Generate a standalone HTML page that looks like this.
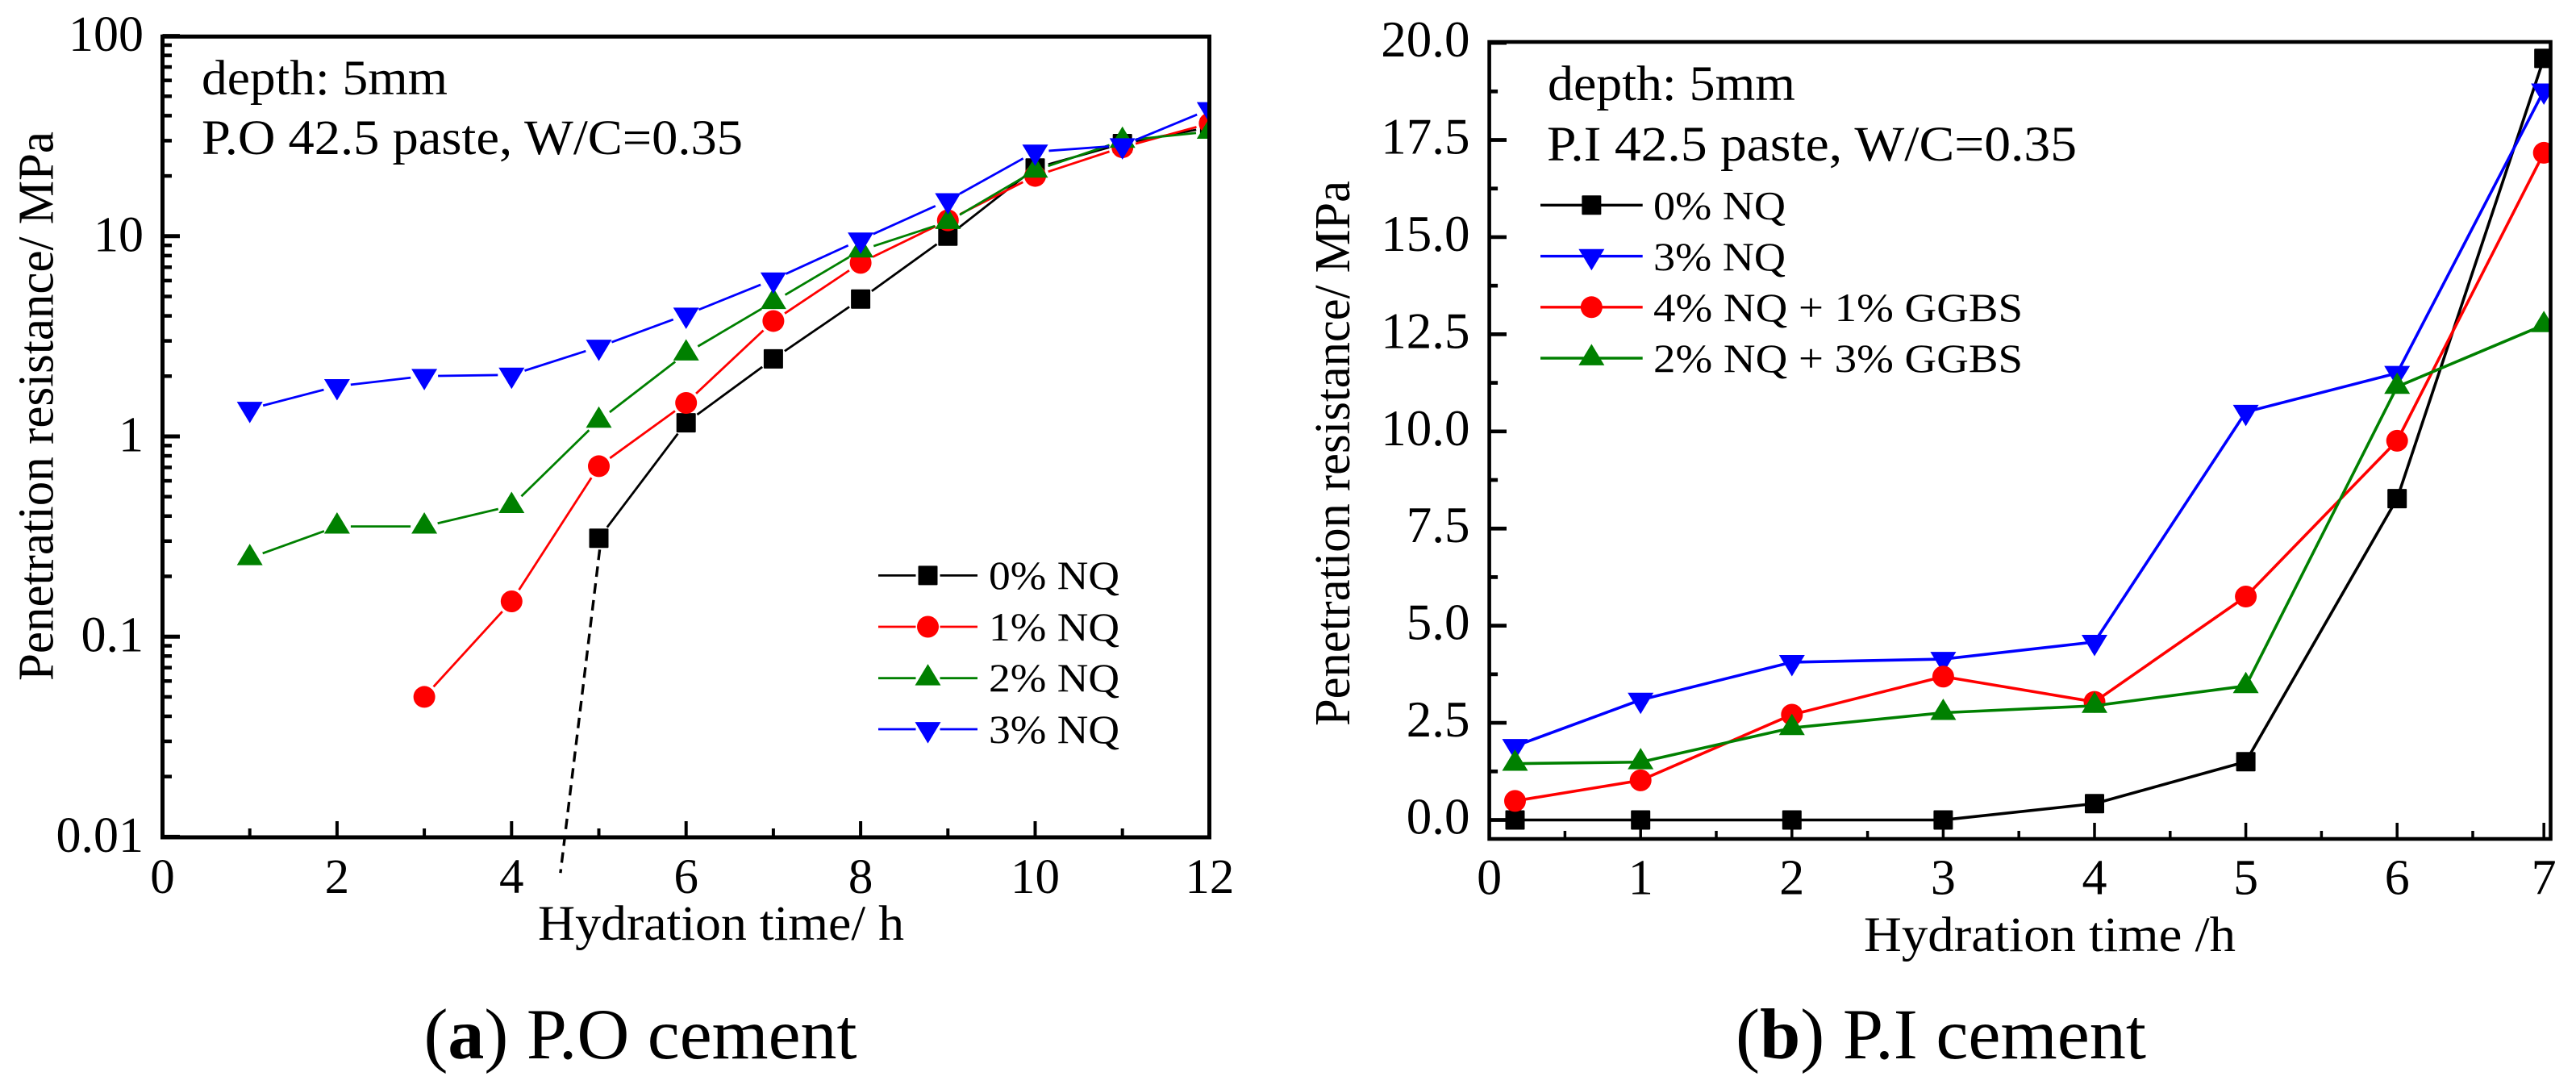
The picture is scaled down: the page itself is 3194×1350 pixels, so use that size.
<!DOCTYPE html>
<html lang="en">
<head>
<meta charset="utf-8">
<title>Penetration resistance charts</title>
<style>
html,body{margin:0;padding:0;background:#fff;}
svg{display:block;}
text{font-family:"Liberation Serif",serif;fill:#000;}
</style>
</head>
<body>
<svg id="figure" xmlns="http://www.w3.org/2000/svg" width="3194" height="1350" viewBox="0 0 3194 1350">
  <defs>
    <clipPath id="clip-a"><rect x="204" y="47" width="1296" height="990"/></clipPath>
    <clipPath id="clip-b"><rect x="1848" y="53" width="1316" height="986"/></clipPath>
  </defs>
  <rect x="0" y="0" width="3194" height="1350" fill="#fff"/>
  <g id="panel-a"></g>
  <g id="panel-b"></g>

  <text x="65.5" y="503.5" font-size="62" text-anchor="middle" textLength="681" lengthAdjust="spacingAndGlyphs" transform="rotate(-90 65.5 503.5)">Penetration resistance/ MPa</text>
  <text x="667" y="1165" font-size="61" textLength="454" lengthAdjust="spacingAndGlyphs">Hydration time/ h</text>
  <text x="250" y="117" font-size="61" textLength="305" lengthAdjust="spacingAndGlyphs">depth: 5mm</text>
  <text x="250" y="191" font-size="61" textLength="671" lengthAdjust="spacingAndGlyphs">P.O 42.5 paste, W/C=0.35</text>
  <text x="1226" y="730" font-size="50" textLength="162" lengthAdjust="spacingAndGlyphs">0% NQ</text>
  <text x="1226" y="794" font-size="50" textLength="162" lengthAdjust="spacingAndGlyphs">1% NQ</text>
  <text x="1226" y="857" font-size="50" textLength="162" lengthAdjust="spacingAndGlyphs">2% NQ</text>
  <text x="1226" y="921" font-size="50" textLength="162" lengthAdjust="spacingAndGlyphs">3% NQ</text>
  <text x="525.5" y="1312" font-size="89" textLength="537" lengthAdjust="spacingAndGlyphs">(<tspan font-weight="bold">a</tspan>) P.O cement</text>

  <text x="1673" y="562" font-size="62" text-anchor="middle" textLength="676" lengthAdjust="spacingAndGlyphs" transform="rotate(-90 1673 562)">Penetration resistance/ MPa</text>
  <text x="2311" y="1179" font-size="61" textLength="461" lengthAdjust="spacingAndGlyphs">Hydration time /h</text>
  <text x="1919" y="124" font-size="61" textLength="307" lengthAdjust="spacingAndGlyphs">depth: 5mm</text>
  <text x="1918" y="199" font-size="61" textLength="657" lengthAdjust="spacingAndGlyphs">P.I 42.5 paste, W/C=0.35</text>
  <text x="2050" y="271.5" font-size="50" textLength="164" lengthAdjust="spacingAndGlyphs">0% NQ</text>
  <text x="2050" y="335" font-size="50" textLength="164" lengthAdjust="spacingAndGlyphs">3% NQ</text>
  <text x="2050" y="398" font-size="50" textLength="458" lengthAdjust="spacingAndGlyphs">4% NQ + 1% GGBS</text>
  <text x="2050" y="461" font-size="50" textLength="458" lengthAdjust="spacingAndGlyphs">2% NQ + 3% GGBS</text>
  <text x="2152" y="1312" font-size="89" textLength="509" lengthAdjust="spacingAndGlyphs">(<tspan font-weight="bold">b</tspan>) P.I cement</text>
</svg>

<script>
// ---- Panel (a) data: P.O cement ----
const hoursA = [1, 2, 3, 4, 5, 6, 7, 8, 9, 10, 11, 12];
const nq0A = [null, null, null, null, 0.31, 1.17, 2.44, 4.85, 10, 21.9, 29, 35];
const nq1A = [null, null, 0.05, 0.15, 0.71, 1.47, 3.77, 7.36, 12, 20, 27.8, 36.6];
const nq2A = [0.247, 0.355, 0.355, 0.45, 1.2, 2.6, 4.7, 8.5, 11.8, 21.3, 30, 33.3];
const nq3A = [1.37, 1.78, 2.0, 2.03, 2.8, 4.05, 6.07, 9.6, 15.1, 26.4, 28.4, 43];
const xMajorTicksA = [0, 2, 4, 6, 8, 10, 12];
const xMinorTicksA = [1, 3, 5, 7, 9, 11];
const yDecadesA = [0.01, 0.1, 1, 10, 100];
const yMinorMultipliersA = [2, 3, 4, 5, 6, 7, 8, 9];
const dashHoursA = [5.01, 4.56];
const dashValuesA = [0.272, 0.0066];

// ---- Panel (b) data: P.I cement ----
const hoursB = [0.17, 1, 2, 3, 4, 5, 6, 6.97];
const nq0B = [0, 0, 0, 0, 0.42, 1.5, 8.27, 19.6];
const nq3B = [1.9, 3.09, 4.06, 4.14, 4.58, 10.5, 11.5, 18.77];
const nq4GgbsB = [0.49, 1.02, 2.71, 3.69, 3.04, 5.75, 9.76, 17.17];
const nq2GgbsB = [1.45, 1.49, 2.37, 2.76, 2.94, 3.45, 11.15, 12.74];
const xMajorTicksB = [0, 1, 2, 3, 4, 5, 6, 6.97];
const xTickLabelsB = ['0', '1', '2', '3', '4', '5', '6', '7'];
const xMinorTicksB = [0.5, 1.5, 2.5, 3.5, 4.5, 5.5, 6.5];
const yMajorTicksB = [0, 2.5, 5, 7.5, 10, 12.5, 15, 17.5, 20];
const yTickLabelsB = ['0.0', '2.5', '5.0', '7.5', '10.0', '12.5', '15.0', '17.5', '20.0'];
const yMinorTicksB = [1.25, 3.75, 6.25, 8.75, 11.25, 13.75, 16.25, 18.75];

// ---- Axis functions ----
const xA = h => 201.5 + 108.2 * h;
const yA = v => 541 - 248.2 * Math.log10(v);
const xB = h => 1846.6 + 187.6 * h;
const yB = v => 1016.5 - 48.17 * v;

const SVGNS = 'http://www.w3.org/2000/svg';
const BLACK = '#000000', RED = '#ff0000', GREEN = '#008000', BLUE = '#0000ff';

function make(tag, attrs, parent) {
  const e = document.createElementNS(SVGNS, tag);
  for (const k in attrs) e.setAttribute(k, attrs[k]);
  parent.appendChild(e);
  return e;
}

function drawMarker(parent, shape, color, x, y, name) {
  let m;
  if (shape === 'square') {
    m = make('rect', {x: x - 12, y: y - 12, width: 24, height: 24, rx: 1, fill: color}, parent);
  } else if (shape === 'circle') {
    m = make('circle', {cx: x, cy: y, r: 13.5, fill: color}, parent);
  } else if (shape === 'up') {
    m = make('polygon', {points: `${x},${y - 17.6} ${x - 16},${y + 8.9} ${x + 16},${y + 8.9}`, fill: color}, parent);
  } else {
    m = make('polygon', {points: `${x},${y + 17.6} ${x - 16},${y - 8.9} ${x + 16},${y - 8.9}`, fill: color}, parent);
  }
  
  
}

function drawSeries(parent, name, hours, values, xf, yf, color, shape, width, gap) {
  const pts = [];
  hours.forEach((h, i) => { if (values[i] !== null) pts.push([xf(h), yf(values[i])]); });
  let d = '';
  for (let i = 0; i + 1 < pts.length; i++) {
    const [x1, y1] = pts[i], [x2, y2] = pts[i + 1];
    const len = Math.hypot(x2 - x1, y2 - y1);
    if (len <= 2 * gap) continue;
    const ux = (x2 - x1) / len, uy = (y2 - y1) / len;
    d += `M${x1 + ux * gap} ${y1 + uy * gap}L${x2 - ux * gap} ${y2 - uy * gap}`;
  }
  const line = make('path', {d: d, fill: 'none', stroke: color, 'stroke-width': width}, parent);
  
  
  pts.forEach(p => {
    drawMarker(parent, shape, color, p[0], p[1], name + '-point');
  });
}

function drawLine(parent, name, x1, y1, x2, y2, width) {
  const l = make('line', {x1: x1, y1: y1, x2: x2, y2: y2, stroke: '#000', 'stroke-width': width}, parent);
  
  
  return l;
}

function drawLabel(parent, name, x, y, txt, size, anchor) {
  const t = make('text', {x: x, y: y, 'font-size': size, 'text-anchor': anchor}, parent);
  t.textContent = txt;
  
  
}

function drawLegendSwatch(parent, name, x1, x2, y, color, shape, width, gap) {
  const cx = (x1 + x2) / 2;
  const l = make('path', {d: gap > 0 ? `M${x1} ${y}L${cx - gap} ${y}M${cx + gap} ${y}L${x2} ${y}` : `M${x1} ${y}L${x2} ${y}`, fill: 'none', stroke: color, 'stroke-width': width}, parent);
  
  
  drawMarker(parent, shape, color, cx, y, name + '-marker');
}

// ---- Panel (a) ----
(function () {
  const g = document.getElementById('panel-a');
  const L = 201.5, R = 1499.5, T = 45.3, B = 1038;

  const plot = make('g', {'clip-path': 'url(#clip-a)'}, g);
  
  
  drawSeries(plot, 'series-a-0-nq', hoursA, nq0A, xA, yA, BLACK, 'square', 2.8, 17);
  drawSeries(plot, 'series-a-1-nq', hoursA, nq1A, xA, yA, RED, 'circle', 2.8, 17);
  drawSeries(plot, 'series-a-2-nq', hoursA, nq2A, xA, yA, GREEN, 'up', 2.8, 17);
  drawSeries(plot, 'series-a-3-nq', hoursA, nq3A, xA, yA, BLUE, 'down', 2.8, 17);

  const dash = drawLine(g, 'extrapolation-dashed-line', xA(dashHoursA[0]), yA(dashValuesA[0]), xA(dashHoursA[1]), yA(dashValuesA[1]), 3.4);
  dash.setAttribute('stroke-dasharray', '13 8');

  const frame = make('rect', {x: L, y: T, width: R - L, height: B - T, fill: 'none', stroke: '#000', 'stroke-width': 5}, g);
  
  

  xMajorTicksA.forEach(h => {
    drawLine(g, 'x-major-tick-a', xA(h), B, xA(h), B - 20, 4);
    drawLabel(g, 'x-tick-label-a', xA(h), 1107, String(h), 61, 'middle');
  });
  xMinorTicksA.forEach(h => {
    drawLine(g, 'x-minor-tick-a', xA(h), B, xA(h), B - 11, 4);
  });
  yDecadesA.forEach(v => {
    drawLine(g, 'y-major-tick-a', L, yA(v), L + 21.5, yA(v), 5);
    drawLabel(g, 'y-tick-label-a', 178, yA(v) + 18.5, String(v), 62, 'end');
    if (v < 100) {
      yMinorMultipliersA.forEach(m => {
        drawLine(g, 'y-minor-tick-a', L, yA(v * m), L + 11.5, yA(v * m), 4.5);
      });
    }
  });

  drawLegendSwatch(g, 'legend-a-0-nq', 1089, 1212, 713.4, BLACK, 'square', 2.8, 15);
  drawLegendSwatch(g, 'legend-a-1-nq', 1089, 1212, 777, RED, 'circle', 2.8, 15);
  drawLegendSwatch(g, 'legend-a-2-nq', 1089, 1212, 840.7, GREEN, 'up', 2.8, 15);
  drawLegendSwatch(g, 'legend-a-3-nq', 1089, 1212, 904, BLUE, 'down', 2.8, 15);
})();

// ---- Panel (b) ----
(function () {
  const g = document.getElementById('panel-b');
  const L = 1846.6, R = 3162.5, T = 52, B = 1040;

  const plot = make('g', {'clip-path': 'url(#clip-b)'}, g);
  
  
  drawSeries(plot, 'series-b-0-nq', hoursB, nq0B, xB, yB, BLACK, 'square', 3.6, 0);
  drawSeries(plot, 'series-b-3-nq', hoursB, nq3B, xB, yB, BLUE, 'down', 3.6, 0);
  drawSeries(plot, 'series-b-4-nq-1-ggbs', hoursB, nq4GgbsB, xB, yB, RED, 'circle', 3.6, 0);
  drawSeries(plot, 'series-b-2-nq-3-ggbs', hoursB, nq2GgbsB, xB, yB, GREEN, 'up', 3.6, 0);

  const frame = make('rect', {x: L, y: T, width: R - L, height: B - T, fill: 'none', stroke: '#000', 'stroke-width': 4.6}, g);
  
  

  xMajorTicksB.forEach((h, i) => {
    drawLine(g, 'x-major-tick-b', xB(h), B, xB(h), B - 20, 3.5);
    drawLabel(g, 'x-tick-label-b', xB(h), 1108.5, xTickLabelsB[i], 62, 'middle');
  });
  xMinorTicksB.forEach(h => {
    drawLine(g, 'x-minor-tick-b', xB(h), B, xB(h), B - 10, 3.5);
  });
  yMajorTicksB.forEach((v, i) => {
    drawLine(g, 'y-major-tick-b', L, yB(v), L + 21.4, yB(v), 4.7);
    drawLabel(g, 'y-tick-label-b', 1822.5, yB(v) + 17, yTickLabelsB[i], 63, 'end');
  });
  yMinorTicksB.forEach(v => {
    drawLine(g, 'y-minor-tick-b', L, yB(v), L + 10.5, yB(v), 4.7);
  });

  drawLegendSwatch(g, 'legend-b-0-nq', 1910, 2036.7, 254.3, BLACK, 'square', 3.4, 0);
  drawLegendSwatch(g, 'legend-b-3-nq', 1910, 2036.7, 317.6, BLUE, 'down', 3.4, 0);
  drawLegendSwatch(g, 'legend-b-4-nq-1-ggbs', 1910, 2036.7, 380.8, RED, 'circle', 3.4, 0);
  drawLegendSwatch(g, 'legend-b-2-nq-3-ggbs', 1910, 2036.7, 444, GREEN, 'up', 3.4, 0);
})();
</script>
</body>
</html>
